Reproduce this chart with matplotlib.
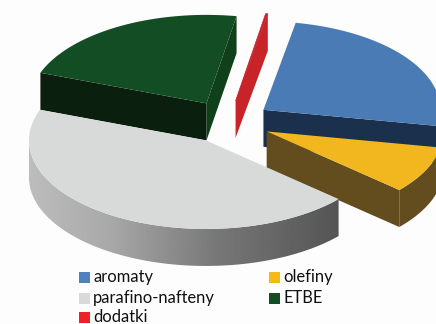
import numpy as np
import matplotlib.pyplot as plt
from matplotlib.patches import Polygon, Rectangle

labels = ["aromaty", "olefiny", "parafino-nafteny", "ETBE", "dodatki"]
values = [25.0, 8.6, 44.1, 22.1, 0.2]
top_colors = ["#4a7bb4", "#f2b71e", "#d8d9d9", "#134d24", "#c9232a"]
legend_colors = ["#4f81bd", "#f6b91a", "#d9d9d9", "#134d24", "#ee2224"]

CX, CY = 228, 122
R = 177
TILT = 0.5
DEPTH = 37
EXPLODE = 43
START = 280.5


def arc(cx, cy, a0, a1, n=80):
	t = np.deg2rad(np.linspace(a0, a1, n))
	return np.column_stack([cx + R * np.cos(t), cy + R * TILT * np.sin(t)])


def wall(ax, p0, p1, color):
	## cut face between two points of the top face
	pts = [p0, p1, (p1[0], p1[1] + DEPTH), (p0[0], p0[1] + DEPTH)]
	ax.add_patch(Polygon(pts, closed=True, fc=color, ec="none"))


def main():
	fig = plt.figure(figsize=(4.36, 3.24), dpi=100, facecolor="#fdfdfe")
	ax = fig.add_axes([0, 0, 1, 1])
	ax.set_xlim(0, 436)
	ax.set_ylim(324, 0)
	ax.axis("off")

	## angles run clockwise from east, because the y axis is flipped
	edges = START + 3.6 * np.concatenate([[0], np.cumsum(values)])
	geo = {}
	for i, name in enumerate(labels):
		a0, a1 = edges[i], edges[i + 1]
		mid = np.deg2rad((a0 + a1) / 2)
		cx = CX + EXPLODE * np.cos(mid)
		cy = CY + EXPLODE * TILT * np.sin(mid)
		geo[name] = (cx, cy, a0, a1, arc(cx, cy, a0, a1))

	## back to front
	cx, cy, a0, a1, pts = geo["ETBE"]
	wall(ax, (cx, cy), pts[-1], "#0f401a")
	wall(ax, pts[0], (cx, cy), "#0b1f0e")
	ax.add_patch(Polygon(np.vstack([[cx, cy], pts]), fc=top_colors[3], ec="none"))

	cx, cy, a0, a1, pts = geo["dodatki"]
	wall(ax, (cx, cy), pts[-1], top_colors[4])
	ax.add_patch(Polygon(np.vstack([[cx, cy], pts]), fc=top_colors[4], ec=top_colors[4], lw=0.5))

	cx, cy, a0, a1, pts = geo["aromaty"]
	wall(ax, (cx, cy), pts[-1], "#1a304c")
	ax.add_patch(Polygon(np.vstack([[cx, cy], pts]), fc=top_colors[0], ec="none"))

	cx, cy, a0, a1, pts = geo["olefiny"]
	a_start = a0 % 360
	a_end = a1 % 360
	outer = arc(cx, cy, a_start, a_end)
	lower = outer + [0, DEPTH]
	ax.add_patch(Polygon(np.vstack([outer, lower[::-1]]), fc="#634c1d", ec="none"))
	wall(ax, (cx, cy), outer[-1], "#634c1d")
	ax.add_patch(Polygon(np.vstack([[cx, cy], outer]), fc=top_colors[1], ec="none"))

	cx, cy, a0, a1, pts = geo["parafino-nafteny"]
	a_start = a0 % 360
	a_end = a1 % 360
	outer = arc(cx, cy, a_start, min(a_end, 180))
	lower = outer + [0, DEPTH]
	side = Polygon(np.vstack([outer, lower[::-1]]), fc="none", ec="none")
	ax.add_patch(side)
	grad = np.interp(np.linspace(28, 340, 256), [28, 110, 215, 340], [0.74, 0.66, 0.47, 0.33])
	im = ax.imshow(grad[None, :], cmap="gray", vmin=0, vmax=1, extent=[28, 340, 270, 130], aspect="auto", zorder=1)
	im.set_clip_path(side)
	ax.set_xlim(0, 436)
	ax.set_ylim(324, 0)
	top = Polygon(np.vstack([[cx, cy], arc(cx, cy, a_start, a_end)]), fc=top_colors[2], ec="none", zorder=2)
	ax.add_patch(top)

	## legend
	rows = [(79, 277), (269, 277), (79, 298), (269, 298), (79, 317)]
	for (x, y), name in zip(rows, labels[:1] + labels[1:]):
		col = legend_colors[labels.index(name)]
		ax.add_patch(Rectangle((x, y - 5), 11, 11, fc=col, ec="none", zorder=3))
		ax.text(x + 14, y, name, family="Lato", fontsize=11.9, color="#111111", va="center", ha="left", zorder=3)

	fig.savefig("out.png", dpi=100, facecolor=fig.get_facecolor())


if __name__ == "__main__":
	main()
